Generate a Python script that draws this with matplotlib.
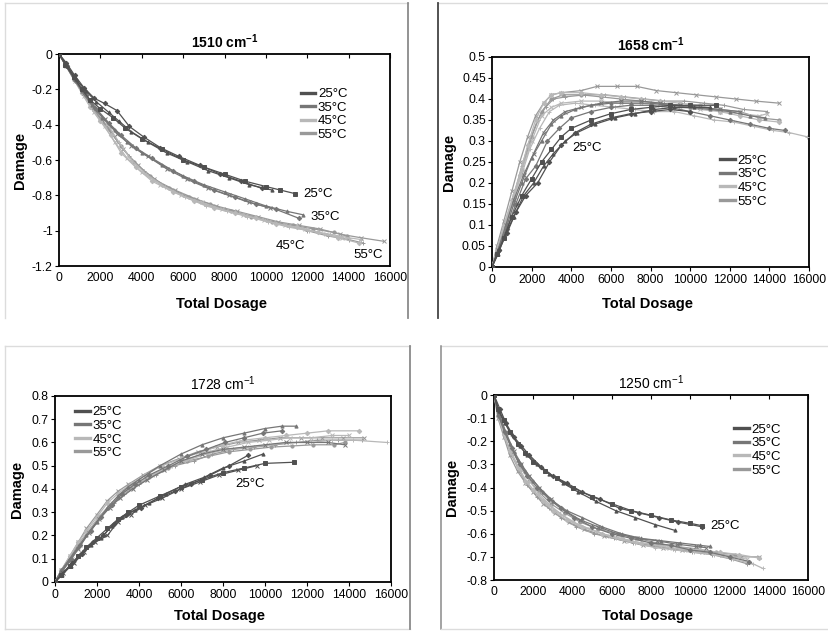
import matplotlib
matplotlib.use("Agg")
import matplotlib.pyplot as plt
from matplotlib.lines import Line2D

plt.rcParams['font.family'] = ['Liberation Sans', 'DejaVu Sans']
plt.rcParams['mathtext.fontset'] = 'custom'
plt.rcParams['mathtext.rm'] = 'Liberation Sans'
plt.rcParams['mathtext.default'] = 'regular'

temps = ["25°C", "35°C", "45°C", "55°C"]
dosage_ticks = [0, 2000, 4000, 6000, 8000, 10000, 12000, 14000, 16000]

# ---------------- 1510 cm-1 ----------------
s1510_25 = [
    ([0, 300, 700, 1100, 1500, 2000, 2600, 3200, 4000, 5000, 6000, 7000, 8000, 9000, 10000, 10700, 11400],
     [0, -0.06, -0.13, -0.2, -0.26, -0.31, -0.36, -0.42, -0.48, -0.54, -0.6, -0.64, -0.68, -0.72, -0.75, -0.77, -0.79]),
    ([0, 400, 800, 1300, 1800, 2400, 2900, 3500, 4300, 5200, 6200, 7200, 8200, 9200, 10300],
     [0, -0.07, -0.14, -0.21, -0.27, -0.33, -0.38, -0.44, -0.5, -0.56, -0.61, -0.66, -0.7, -0.74, -0.77]),
    ([0, 350, 750, 1200, 1700, 2200, 2800, 3400, 4100, 4900, 5800, 6800, 7800, 8800, 9800],
     [0, -0.05, -0.12, -0.19, -0.25, -0.28, -0.32, -0.41, -0.47, -0.53, -0.58, -0.63, -0.68, -0.72, -0.76]),
]
s1510_35 = [
    ([0, 300, 700, 1100, 1600, 2100, 2700, 3300, 4000, 5000, 6000, 7000, 8000, 9000, 10000, 11000, 11800],
     [0, -0.06, -0.14, -0.21, -0.29, -0.36, -0.43, -0.5, -0.56, -0.63, -0.69, -0.74, -0.78, -0.82, -0.86, -0.89, -0.91]),
    ([0, 400, 800, 1300, 1800, 2400, 3000, 3700, 4500, 5500, 6500, 7500, 8500, 9500, 10500, 11600],
     [0, -0.07, -0.15, -0.23, -0.31, -0.39, -0.46, -0.53, -0.59, -0.66, -0.72, -0.77, -0.81, -0.85, -0.88, -0.93]),
    ([0, 350, 750, 1200, 1700, 2200, 2800, 3500, 4300, 5200, 6200, 7200, 8200, 9200, 10200],
     [0, -0.06, -0.13, -0.22, -0.3, -0.37, -0.45, -0.52, -0.58, -0.65, -0.71, -0.76, -0.8, -0.84, -0.87]),
]
s1510_45 = [
    ([0, 300, 700, 1100, 1500, 2000, 2500, 3000, 3700, 4500, 5500, 6500, 7500, 8500, 9500, 10500, 11500, 12500, 13500, 14500],
     [0, -0.06, -0.14, -0.22, -0.3, -0.38, -0.46, -0.56, -0.64, -0.72, -0.78, -0.83, -0.87, -0.9, -0.93, -0.96, -0.98, -1.01, -1.04, -1.07]),
    ([0, 350, 750, 1200, 1700, 2200, 2700, 3300, 4000, 4900, 5900, 6900, 7900, 8900, 9900, 10900, 11900, 12900, 13700],
     [0, -0.07, -0.15, -0.24, -0.33, -0.41, -0.5, -0.59, -0.67, -0.74, -0.8, -0.84, -0.88, -0.91, -0.94, -0.97, -0.99, -1.02, -1.04]),
    ([0, 400, 800, 1300, 1800, 2300, 2900, 3500, 4200, 5100, 6100, 7100, 8100, 9100, 10100, 11100, 12100, 13100, 14000, 14600],
     [0, -0.06, -0.14, -0.23, -0.31, -0.39, -0.5, -0.6, -0.68, -0.75, -0.81, -0.86, -0.89, -0.92, -0.95, -0.98, -1.0, -1.02, -1.04, -1.05]),
]
s1510_55 = [
    ([0, 300, 700, 1100, 1500, 2000, 2500, 3100, 3800, 4600, 5600, 6600, 7600, 8600, 9600, 10600, 11600, 12600, 13600, 14600, 15700],
     [0, -0.06, -0.13, -0.21, -0.29, -0.36, -0.44, -0.54, -0.63, -0.71, -0.77, -0.82, -0.86, -0.89, -0.92, -0.95, -0.97, -0.99, -1.02, -1.04, -1.06]),
    ([0, 350, 750, 1200, 1700, 2200, 2800, 3400, 4100, 5000, 6000, 7000, 8000, 9000, 10000, 11000, 12000, 13000, 14000, 14700],
     [0, -0.07, -0.14, -0.23, -0.32, -0.4, -0.49, -0.58, -0.66, -0.74, -0.8, -0.85, -0.88, -0.91, -0.94, -0.97, -1.0, -1.03, -1.05, -1.07]),
    ([0, 400, 800, 1300, 1800, 2400, 3000, 3600, 4400, 5300, 6300, 7300, 8300, 9300, 10300, 11300, 12300, 13300, 13900],
     [0, -0.07, -0.15, -0.24, -0.33, -0.42, -0.52, -0.61, -0.69, -0.76, -0.81, -0.85, -0.89, -0.92, -0.95, -0.97, -0.99, -1.01, -1.03]),
]

# ---------------- 1658 cm-1 ----------------
s1658_25 = [
    ([0, 250, 600, 1000, 1500, 2000, 2500, 3000, 3500, 4000, 5000, 6000, 7000, 8000, 9000, 10000, 11300],
     [0, 0.03, 0.07, 0.12, 0.17, 0.21, 0.25, 0.28, 0.31, 0.33, 0.35, 0.365, 0.375, 0.38, 0.385, 0.385, 0.385]),
    ([0, 300, 700, 1100, 1600, 2100, 2600, 3100, 3700, 4300, 5200, 6200, 7200, 8200, 9200, 10200, 11000],
     [0, 0.03, 0.08, 0.12, 0.17, 0.2, 0.24, 0.27, 0.3, 0.32, 0.34, 0.355, 0.365, 0.375, 0.38, 0.38, 0.38]),
    ([0, 350, 750, 1200, 1700, 2300, 2900, 3500, 4200, 5000, 6000, 7000, 8000, 9000, 10000],
     [0, 0.04, 0.08, 0.13, 0.17, 0.2, 0.25, 0.29, 0.32, 0.34, 0.355, 0.365, 0.37, 0.375, 0.37]),
]
s1658_35 = [
    ([0, 300, 700, 1100, 1500, 2000, 2500, 3000, 3500, 4200, 5000, 6000, 7000, 8000, 9000, 10000, 11000, 12000, 13000, 13800],
     [0, 0.04, 0.09, 0.15, 0.2, 0.26, 0.3, 0.34, 0.36, 0.375, 0.385, 0.39, 0.39, 0.39, 0.385, 0.38, 0.375, 0.37, 0.36, 0.355]),
    ([0, 350, 750, 1200, 1700, 2200, 2800, 3400, 4000, 5000, 6000, 7000, 8000, 9000, 10000, 11000, 12000, 13000, 14000, 14800],
     [0, 0.04, 0.09, 0.15, 0.21, 0.24, 0.3, 0.33, 0.355, 0.37, 0.38, 0.385, 0.385, 0.38, 0.37, 0.36, 0.35, 0.34, 0.33, 0.325]),
    ([0, 300, 700, 1100, 1600, 2100, 2600, 3100, 3700, 4500, 5500, 6500, 7500, 8500, 9500, 10500, 11500, 12500],
     [0, 0.04, 0.1, 0.16, 0.22, 0.27, 0.32, 0.35, 0.37, 0.38, 0.39, 0.395, 0.395, 0.39, 0.385, 0.38, 0.375, 0.37]),
]
s1658_45 = [
    ([0, 250, 600, 1000, 1400, 1800, 2200, 2600, 3000, 3500, 4500, 5500, 6500, 7500, 8500, 9500, 10500, 11500, 12500, 13500, 14500],
     [0, 0.04, 0.1, 0.16, 0.22, 0.29, 0.35, 0.39, 0.41, 0.415, 0.415, 0.41, 0.405, 0.4, 0.395, 0.39, 0.385, 0.37, 0.36, 0.35, 0.345]),
    ([0, 300, 700, 1100, 1500, 2000, 2500, 3000, 3500, 4500, 5500, 6500, 7500, 8500, 9500, 10500, 11500, 12500, 13500, 13900],
     [0, 0.05, 0.11, 0.17, 0.23, 0.3, 0.36, 0.38, 0.39, 0.395, 0.395, 0.39, 0.39, 0.385, 0.38, 0.375, 0.37, 0.365, 0.36, 0.365]),
    ([0, 300, 650, 1050, 1500, 1900, 2400, 2900, 3400, 4200, 5200, 6200, 7200, 8200, 9200, 10200, 11200, 12200, 13200, 14200, 15000, 15900],
     [0, 0.04, 0.1, 0.16, 0.22, 0.28, 0.33, 0.37, 0.385, 0.39, 0.385, 0.38, 0.375, 0.37, 0.37, 0.36, 0.35, 0.345, 0.335, 0.325, 0.32, 0.31]),
]
s1658_55 = [
    ([0, 250, 600, 1000, 1400, 1800, 2200, 2600, 3000, 3500, 4500, 5300, 6300, 7300, 8300, 9300, 10300, 11300, 12300, 13300, 14500],
     [0, 0.05, 0.11, 0.18, 0.25, 0.31, 0.36, 0.39, 0.41, 0.415, 0.42, 0.43, 0.43, 0.43, 0.42, 0.415, 0.41, 0.405, 0.4, 0.395, 0.39]),
    ([0, 300, 700, 1100, 1500, 1900, 2300, 2700, 3100, 3700, 4700, 5700, 6700, 7700, 8700, 9700, 10700, 11700, 12700, 13900],
     [0, 0.05, 0.11, 0.17, 0.24, 0.3, 0.35, 0.38, 0.4, 0.405, 0.41, 0.41, 0.405, 0.4, 0.395, 0.395, 0.39, 0.385, 0.375, 0.37]),
    ([0, 300, 700, 1100, 1500, 2000, 2500, 3000, 3600, 4500, 5500, 6500, 7500, 8500, 9500, 10500, 11500, 12500, 13500, 14500],
     [0, 0.04, 0.1, 0.17, 0.23, 0.31, 0.37, 0.4, 0.41, 0.41, 0.405, 0.4, 0.395, 0.39, 0.385, 0.38, 0.375, 0.37, 0.355, 0.35]),
]

# ---------------- 1728 cm-1 ----------------
s1728_25 = [
    ([0, 300, 700, 1100, 1500, 2000, 2500, 3000, 3500, 4000, 5000, 6000, 7000, 8000, 9000, 10000, 11400],
     [0, 0.03, 0.07, 0.11, 0.15, 0.19, 0.23, 0.27, 0.3, 0.33, 0.37, 0.41, 0.44, 0.47, 0.49, 0.51, 0.515]),
    ([0, 350, 750, 1200, 1700, 2200, 2700, 3200, 3800, 4500, 5300, 6200, 7100, 8000, 9000, 9900],
     [0, 0.03, 0.07, 0.12, 0.16, 0.19, 0.24, 0.28, 0.31, 0.34, 0.38, 0.42, 0.45, 0.49, 0.52, 0.55]),
    ([0, 300, 800, 1300, 1800, 2300, 2800, 3400, 4100, 4900, 5700, 6500, 7400, 8300, 9200],
     [0, 0.03, 0.08, 0.12, 0.17, 0.2, 0.25, 0.29, 0.32, 0.36, 0.39, 0.42, 0.46, 0.5, 0.545]),
    ([0, 400, 900, 1400, 1900, 2500, 3000, 3600, 4300, 5100, 6000, 6900, 7800, 8700, 9600],
     [0, 0.04, 0.08, 0.13, 0.17, 0.2, 0.26, 0.29, 0.33, 0.36, 0.4, 0.43, 0.46, 0.48, 0.5]),
]
s1728_35 = [
    ([0, 300, 700, 1100, 1500, 2000, 2500, 3000, 3500, 4000, 5000, 6000, 7000, 8000, 9000, 10000, 10800, 11500],
     [0, 0.05, 0.1, 0.15, 0.2, 0.26, 0.32, 0.37, 0.41, 0.44, 0.5, 0.55, 0.59, 0.62, 0.64, 0.66, 0.67, 0.67]),
    ([0, 350, 750, 1200, 1700, 2200, 2700, 3200, 3800, 4500, 5400, 6300, 7200, 8100, 9000, 9900, 10800],
     [0, 0.05, 0.1, 0.16, 0.22, 0.28, 0.33, 0.38, 0.42, 0.46, 0.5, 0.54, 0.57, 0.6, 0.62, 0.64, 0.65]),
    ([0, 300, 700, 1100, 1600, 2100, 2600, 3100, 3700, 4400, 5200, 6000, 7000, 8000, 9000, 10000, 11000, 12000, 13000, 13800],
     [0, 0.04, 0.09, 0.14, 0.21, 0.27, 0.32, 0.36, 0.4, 0.44, 0.48, 0.52, 0.55, 0.57, 0.58, 0.59, 0.6, 0.6, 0.6, 0.59]),
]
s1728_45 = [
    ([0, 300, 700, 1100, 1500, 2000, 2500, 3000, 3600, 4300, 5100, 6000, 7000, 8000, 9000, 10000, 11000, 12000, 13000, 14500],
     [0, 0.05, 0.11, 0.17, 0.22, 0.28, 0.34, 0.38, 0.42, 0.46, 0.5, 0.53, 0.56, 0.59, 0.61, 0.62, 0.63, 0.64, 0.65, 0.65]),
    ([0, 350, 800, 1200, 1700, 2200, 2700, 3300, 3900, 4600, 5500, 6400, 7300, 8200, 9200, 10200, 11200, 12200, 13200, 14000],
     [0, 0.05, 0.1, 0.16, 0.23, 0.29, 0.34, 0.39, 0.42, 0.46, 0.5, 0.53, 0.56, 0.58, 0.6, 0.61, 0.62, 0.62, 0.63, 0.63]),
    ([0, 300, 750, 1150, 1600, 2100, 2600, 3100, 3700, 4400, 5300, 6200, 7200, 8200, 9200, 10200, 11200, 12200, 13200, 14200, 15800],
     [0, 0.05, 0.1, 0.16, 0.22, 0.27, 0.33, 0.37, 0.41, 0.45, 0.49, 0.52, 0.55, 0.57, 0.58, 0.59, 0.6, 0.6, 0.61, 0.61, 0.6]),
]
s1728_55 = [
    ([0, 300, 700, 1100, 1500, 2000, 2500, 3000, 3500, 4200, 5000, 5900, 6800, 7700, 8700, 9700, 10700, 11700, 12700, 13700, 14700],
     [0, 0.05, 0.11, 0.17, 0.23, 0.29, 0.35, 0.39, 0.42, 0.46, 0.5, 0.53, 0.56, 0.58, 0.6, 0.61, 0.62, 0.62, 0.62, 0.62, 0.62]),
    ([0, 350, 800, 1200, 1700, 2200, 2800, 3300, 4000, 4800, 5700, 6600, 7500, 8500, 9500, 10500, 11500, 12500, 13500, 14600],
     [0, 0.05, 0.1, 0.16, 0.22, 0.28, 0.34, 0.38, 0.42, 0.46, 0.5, 0.52, 0.55, 0.57, 0.58, 0.59, 0.6, 0.61, 0.61, 0.61]),
    ([0, 300, 700, 1100, 1600, 2100, 2600, 3100, 3700, 4500, 5400, 6300, 7300, 8300, 9300, 10300, 11300, 12300, 13300, 13800],
     [0, 0.04, 0.1, 0.16, 0.22, 0.28, 0.33, 0.37, 0.41, 0.45, 0.49, 0.52, 0.54, 0.56, 0.57, 0.58, 0.585, 0.59, 0.59, 0.6]),
]

# ---------------- 1250 cm-1 ----------------
s1250_25 = [
    ([0, 200, 500, 800, 1200, 1600, 2000, 2600, 3200, 4000, 5000, 6000, 7000, 8000, 9000, 10000, 10600],
     [0, -0.06, -0.11, -0.16, -0.21, -0.25, -0.29, -0.33, -0.36, -0.4, -0.44, -0.47, -0.5, -0.52, -0.54, -0.555, -0.565]),
    ([0, 250, 550, 900, 1300, 1700, 2200, 2800, 3500, 4300, 5200, 6200, 7200, 8200, 9200],
     [0, -0.07, -0.12, -0.17, -0.22, -0.26, -0.3, -0.34, -0.38, -0.42, -0.46, -0.5, -0.53, -0.56, -0.585]),
    ([0, 300, 600, 1000, 1400, 1800, 2400, 3000, 3700, 4500, 5400, 6400, 7400, 8400, 9400, 10600],
     [0, -0.06, -0.12, -0.18, -0.22, -0.26, -0.31, -0.35, -0.38, -0.42, -0.45, -0.49, -0.51, -0.53, -0.55, -0.57]),
]
s1250_35 = [
    ([0, 200, 500, 800, 1200, 1600, 2000, 2500, 3000, 3700, 4500, 5500, 6500, 7500, 8500, 9500, 10500, 11000],
     [0, -0.08, -0.15, -0.21, -0.28, -0.33, -0.37, -0.42, -0.46, -0.5, -0.53, -0.57, -0.6, -0.62, -0.63, -0.64, -0.65, -0.655]),
    ([0, 250, 550, 900, 1300, 1700, 2200, 2800, 3400, 4100, 5000, 6000, 7000, 8000, 9000, 10000, 11000, 12000, 13000],
     [0, -0.09, -0.16, -0.23, -0.3, -0.35, -0.4, -0.45, -0.49, -0.53, -0.57, -0.6, -0.62, -0.64, -0.65, -0.67, -0.68, -0.7, -0.72]),
    ([0, 300, 600, 1000, 1400, 1800, 2300, 2900, 3600, 4400, 5300, 6300, 7300, 8300, 9300, 10300, 10800],
     [0, -0.09, -0.16, -0.24, -0.3, -0.35, -0.4, -0.45, -0.5, -0.54, -0.57, -0.6, -0.62, -0.63, -0.645, -0.655, -0.66]),
]
s1250_45 = [
    ([0, 200, 500, 800, 1200, 1600, 2000, 2500, 3000, 3700, 4500, 5500, 6500, 7500, 8500, 9500, 10500, 11500, 12500, 13500],
     [0, -0.09, -0.17, -0.24, -0.31, -0.37, -0.41, -0.46, -0.5, -0.54, -0.57, -0.6, -0.62, -0.64, -0.65, -0.66, -0.67, -0.68, -0.69, -0.705]),
    ([0, 250, 550, 900, 1300, 1700, 2200, 2700, 3300, 4000, 4900, 5900, 6900, 7900, 8900, 9900, 10900, 11900, 12900],
     [0, -0.1, -0.18, -0.25, -0.32, -0.38, -0.43, -0.47, -0.51, -0.55, -0.58, -0.61, -0.63, -0.645, -0.66, -0.67, -0.68, -0.695, -0.71]),
    ([0, 300, 600, 1000, 1400, 1800, 2300, 2900, 3500, 4300, 5200, 6200, 7200, 8200, 9200, 10200, 11200, 12200, 13200, 13700],
     [0, -0.09, -0.17, -0.25, -0.32, -0.37, -0.43, -0.48, -0.52, -0.56, -0.59, -0.62, -0.64, -0.66, -0.67, -0.68, -0.69, -0.71, -0.73, -0.75]),
]
s1250_55 = [
    ([0, 200, 500, 800, 1200, 1600, 2000, 2500, 3100, 3800, 4600, 5600, 6600, 7600, 8600, 9600, 10600, 11600, 12600, 13500],
     [0, -0.1, -0.18, -0.26, -0.33, -0.38, -0.42, -0.47, -0.51, -0.55, -0.58, -0.61, -0.63, -0.65, -0.66, -0.67, -0.68, -0.69, -0.7, -0.7]),
    ([0, 250, 550, 900, 1300, 1700, 2200, 2800, 3400, 4200, 5100, 6100, 7100, 8100, 9100, 10100, 11100, 12100, 12900],
     [0, -0.1, -0.18, -0.26, -0.33, -0.39, -0.44, -0.49, -0.53, -0.57, -0.6, -0.62, -0.64, -0.65, -0.665, -0.68, -0.69, -0.71, -0.73]),
    ([0, 300, 600, 1000, 1400, 1800, 2300, 2900, 3600, 4400, 5300, 6300, 7300, 8300, 9300, 10300, 11300, 12300],
     [0, -0.09, -0.17, -0.25, -0.31, -0.37, -0.42, -0.47, -0.51, -0.55, -0.58, -0.6, -0.62, -0.64, -0.655, -0.665, -0.68, -0.69]),
]

yt_1510 = [0, -0.2, -0.4, -0.6, -0.8, -1.0, -1.2]
yl_1510 = ["0", "-0.2", "-0.4", "-0.6", "-0.8", "-1", "-1.2"]
yt_1658 = [0, 0.05, 0.1, 0.15, 0.2, 0.25, 0.3, 0.35, 0.4, 0.45, 0.5]
yl_1658 = ["0", "0.05", "0.1", "0.15", "0.2", "0.25", "0.3", "0.35", "0.4", "0.45", "0.5"]
yt_1728 = [0, 0.1, 0.2, 0.3, 0.4, 0.5, 0.6, 0.7, 0.8]
yl_1728 = ["0", "0.1", "0.2", "0.3", "0.4", "0.5", "0.6", "0.7", "0.8"]
yt_1250 = [0, -0.1, -0.2, -0.3, -0.4, -0.5, -0.6, -0.7, -0.8]
yl_1250 = ["0", "-0.1", "-0.2", "-0.3", "-0.4", "-0.5", "-0.6", "-0.7", "-0.8"]

colors = {"25°C": "#505050", "35°C": "#767676", "45°C": "#b8b8b8", "55°C": "#999999"}
markers = ['s', '^', 'D', 'x', '+', 'o']

panels = [
    dict(title="1510", bold=True, data=[s1510_25, s1510_35, s1510_45, s1510_55],
         yt=yt_1510, yl=yl_1510, ylim=(-1.2, 0), pos=[0.0712, 0.5784, 0.3993, 0.336], top=True,
         leg=(0.73, 0.84), ylab=-0.098, xlab=-0.146,
         notes=[("25°C", 11800, -0.79), ("35°C", 12150, -0.925), ("45°C", 10450, -1.085), ("55°C", 14250, -1.14)]),
    dict(title="1658", bold=True, data=[s1658_25, s1658_35, s1658_45, s1658_55],
         yt=yt_1658, yl=yl_1658, ylim=(0, 0.5), pos=[0.5935, 0.5769, 0.3824, 0.3328], top=False,
         leg=(0.72, 0.535), ylab=-0.115, xlab=-0.143,
         notes=[("25°C", 4050, 0.283)]),
    dict(title="1728", bold=False, data=[s1728_25, s1728_35, s1728_45, s1728_55],
         yt=yt_1728, yl=yl_1728, ylim=(0, 0.8), pos=[0.0663, 0.0777, 0.4053, 0.2948], top=False,
         leg=(0.06, 0.945), ylab=-0.093, xlab=-0.145,
         notes=[("25°C", 8600, 0.42)]),
    dict(title="1250", bold=False, data=[s1250_25, s1250_35, s1250_45, s1250_55],
         yt=yt_1250, yl=yl_1250, ylim=(-0.8, 0), pos=[0.5959, 0.0808, 0.3788, 0.2932], top=True,
         leg=(0.765, 0.845), ylab=-0.11, xlab=-0.157,
         notes=[("25°C", 11000, -0.566)]),
]

fig = plt.figure(figsize=(8.29, 6.31), dpi=100)

# panel frames
frame_light = "#dcdcdc"
def fline(x, y, c, lw=1.0):
    fig.add_artist(Line2D(x, y, transform=fig.transFigure, color=c, lw=lw))
fline([5/829, 408/829], [1-3/631, 1-3/631], frame_light)
fline([5/829, 5/829], [1-3/631, 1-318/631], frame_light)
fline([408/829, 408/829], [1-3/631, 1-318/631], "#8a8a8a", 1.3)
fline([438/829, 829/829], [1-3/631, 1-3/631], frame_light)
fline([438/829, 438/829], [1-3/631, 1-318/631], "#444444", 1.3)
fline([5/829, 410/829], [1-346/631, 1-346/631], frame_light)
fline([5/829, 5/829], [1-346/631, 1-629/631], frame_light)
fline([5/829, 410/829], [1-629/631, 1-629/631], frame_light)
fline([410/829, 410/829], [1-346/631, 1-629/631], "#8a8a8a", 1.3)
fline([441/829, 829/829], [1-346/631, 1-346/631], frame_light)
fline([441/829, 441/829], [1-346/631, 1-629/631], "#8a8a8a", 1.1)
fline([441/829, 829/829], [1-629/631, 1-629/631], frame_light)

for p in panels:
    ax = fig.add_axes(p["pos"])
    for ti, (temp, curves) in enumerate(zip(temps, p["data"])):
        for ci, (xs, ys) in enumerate(curves):
            ax.plot(xs, ys, color=colors[temp], lw=0.9,
                    marker=markers[(ti + ci) % len(markers)], ms=2.3, mew=0.7,
                    label=temp if ci == 0 else None, zorder=3 - ti * 0.1)
    ax.set_xlim(0, 16000)
    ax.set_ylim(*p["ylim"])
    ax.set_xticks(dosage_ticks)
    ax.set_xticklabels([str(v) for v in dosage_ticks])
    ax.set_yticks(p["yt"])
    ax.set_yticklabels(p["yl"])
    for s in ax.spines.values():
        s.set_linewidth(1.3)
        s.set_color("black")
    ax.tick_params(axis='y', direction='out', length=3, width=0.8, labelsize=8.8, pad=1.5)
    if p["top"]:
        ax.tick_params(axis='x', top=True, bottom=False, direction='in', length=3, width=0.8,
                       labelsize=8.8, labelbottom=True, labeltop=False, pad=4)
    else:
        ax.tick_params(axis='x', direction='out', length=3, width=0.8, labelsize=8.8, pad=2)
    title = p["title"] + r" cm$^{-1}$"
    ax.set_title(title, fontsize=10, fontweight='bold' if p["bold"] else 'normal', pad=4)
    ax.set_ylabel("Damage", fontsize=10.5, fontweight='bold')
    ax.yaxis.set_label_coords(p["ylab"], 0.5)
    ax.set_xlabel("Total Dosage", fontsize=10.5, fontweight='bold')
    ax.xaxis.set_label_coords(0.49, p["xlab"])
    handles = [Line2D([0], [0], color=colors[t], lw=2.4) for t in temps]
    ax.legend(handles, temps, loc='upper left', bbox_to_anchor=p["leg"], frameon=False,
              fontsize=9.5, handlelength=1.1, handletextpad=0.2, labelspacing=0.1,
              borderpad=0, borderaxespad=0)
    for txt, x, y in p["notes"]:
        ax.text(x, y, txt, fontsize=9.5, va='center', ha='left')

fig.savefig("out.png", dpi=100)
